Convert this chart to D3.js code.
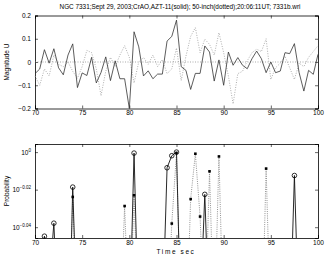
<!DOCTYPE html>
<html>
<head>
<meta charset="utf-8">
<script src="https://cdn.jsdelivr.net/npm/d3@7"></script>
<style>
  body { margin: 0; background: #fff; }
  text { font-family: "Liberation Sans", Arial, sans-serif; fill: #000; }
</style>
</head>
<body>
<svg id="chart" width="327" height="256"></svg>
<script>
// sample times, 0.5 s apart
const times = d3.range(61).map(i => 70 + i * 0.5);

const solidMag = [-0.05, -0.03, 0.053, -0.005, 0.057, -0.025, -0.055, 0.03, 0.078, -0.11,
  -0.047, -0.058, 0.02, -0.09, -0.045, 0.022, -0.08, 0.005, -0.072, -0.072,
  -0.2, 0.13, 0.065, -0.06, -0.038, -0.072, -0.052, -0.052, 0.09, 0.11,
  0.18, -0.02, -0.036, -0.118, -0.049, -0.049, 0.069, 0.043, -0.082, 0.009,
  -0.10, 0.043, -0.014, 0.019, -0.014, -0.029, 0.014, 0.047, 0.014, -0.046,
  0.0, -0.046, -0.039, 0.04, 0.036, 0.079, -0.046, -0.125, -0.036, -0.053, 0.033];

const dottedMag = [-0.06, -0.10, -0.03, -0.06, 0.03, -0.01, -0.02, 0.0, -0.04, -0.07,
  -0.02, 0.05, 0.04, -0.03, -0.145, -0.04, 0.02, -0.02, 0.03, 0.07,
  0.02, -0.09, 0.0, 0.02, -0.01, 0.03, -0.02, 0.01, -0.05, -0.03,
  0.06, -0.08, 0.025, 0.11, 0.148, 0.04, 0.098, 0.076, 0.03, 0.126,
  0.04, -0.06, -0.18, -0.05, -0.04, 0.005, 0.04, 0.055, 0.045, 0.10,
  -0.075, -0.025, -0.005, 0.025, -0.025, -0.075, -0.005, -0.02, 0.02, 0.045, 0.07];

const solidProb = [0.80, 0.82, 0.902, 0.85, 0.9165, 0.80, 0.78, 0.75, 0.958, 0.80,
  0.78, 0.76, 0.80, 0.82, 0.79, 0.80, 0.77, 0.80, 0.81, 0.78,
  0.80, 0.9988, 0.80, 0.78, 0.80, 0.79, 0.80, 0.81, 0.981, 0.9956,
  1.0, 0.80, 0.78, 0.79, 0.80, 0.82, 0.9495, 0.80, 0.78, 0.80,
  0.79, 0.80, 0.81, 0.80, 0.78, 0.79, 0.80, 0.80, 0.78, 0.80,
  0.79, 0.80, 0.81, 0.78, 0.80, 0.9717, 0.80, 0.79, 0.80, 0.78, 0.80];

const dottedProb = [0.78, 0.80, 0.79, 0.80, 0.78, 0.80, 0.81, 0.79, 0.9465, 0.80,
  0.78, 0.80, 0.79, 0.80, 0.81, 0.78, 0.80, 0.79, 0.80, 0.936,
  0.80, 0.9484, 0.80, 0.79, 0.78, 0.80, 0.81, 0.79, 0.80, 0.9161,
  0.999, 0.80, 0.79, 0.944, 0.998, 0.924, 0.80, 0.9767, 0.80, 0.9947,
  0.80, 0.79, 0.78, 0.80, 0.81, 0.80, 0.79, 0.80, 0.78, 0.980,
  0.80, 0.79, 0.80, 0.81, 0.78, 0.80, 0.79, 0.80, 0.78, 0.80, 0.79];

const xTicks = [70, 75, 80, 85, 90, 95, 100];
const magTicks = [-0.2, -0.1, 0, 0.1, 0.2];
const probTickExp = [0, -0.02, -0.04];

const titleText = 'NGC 7331;Sept 29, 2003;CrAO,AZT-11(solid); 50-inch(dotted);20:06:11UT; 7331b.wri';

const svg = d3.select('#chart');
const left = 35, right = 318;

const x = d3.scaleLinear().domain([70, 100]).range([left, right]);
const yMag = d3.scaleLinear().domain([-0.2, 0.2]).range([108.5, 15.5]);
const yProb = d3.scaleLog().domain([0.9, 1.01]).range([238, 144]);

function frame(y, top, bottom, yticks, yfmt) {
  const g = svg.append('g');
  g.append('g').attr('transform', `translate(0,${bottom})`)
    .call(d3.axisBottom(x).tickValues(xTicks).tickSize(-3).tickPadding(2).tickFormat(d3.format('d')));
  g.append('g').attr('transform', `translate(0,${top})`)
    .call(d3.axisTop(x).tickValues(xTicks).tickSize(-3).tickFormat(''));
  const ya = g.append('g').attr('transform', `translate(${left},0)`)
    .call(d3.axisLeft(y).tickValues(yticks).tickSize(-3).tickPadding(4).tickFormat(yfmt));
  g.append('g').attr('transform', `translate(${right},0)`)
    .call(d3.axisRight(y).tickValues(yticks).tickSize(-3).tickFormat(''));
  g.selectAll('.domain').attr('stroke', '#000').attr('stroke-width', 0.8);
  g.selectAll('.tick line').attr('stroke', '#000').attr('stroke-width', 0.6);
  g.selectAll('.tick text').attr('font-size', '6.5px').attr('font-family', '"Liberation Sans", Arial, sans-serif');
  return ya;
}

// ---- top panel: magnitudes
svg.append('text')
  .attr('x', 180).attr('y', 9)
  .attr('font-size', '6.4px')
  .style('text-anchor', 'middle')
  .text(titleText);

frame(yMag, 15.5, 108.5, magTicks, d => d === 0 ? '0' : d3.format('.1f')(d).replace('-', '\u2212'));

svg.append('line')
  .attr('x1', left).attr('x2', right)
  .attr('y1', yMag(0)).attr('y2', yMag(0))
  .attr('stroke', '#888').attr('stroke-width', 0.7)
  .attr('stroke-dasharray', '1,1.5');

const magLine = d3.line().x((d, i) => x(times[i])).y(d => yMag(d));

svg.append('path')
  .datum(dottedMag)
  .attr('fill', 'none')
  .attr('stroke', '#999')
  .attr('stroke-width', 0.8)
  .attr('stroke-dasharray', '1,1.5')
  .attr('d', magLine);

svg.append('path')
  .datum(solidMag)
  .attr('fill', 'none')
  .attr('stroke', '#333')
  .attr('stroke-width', 0.8)
  .attr('d', magLine);

svg.append('text')
  .attr('transform', 'translate(9,62) rotate(-90)')
  .attr('font-size', '6.5px')
  .style('text-anchor', 'middle')
  .text('Magnitude   U');

// ---- bottom panel: probabilities
const probAxis = frame(yProb, 144, 238, probTickExp.map(e => Math.pow(10, e)), () => '');
probAxis.selectAll('.tick text').each(function(d, i) {
  const t = d3.select(this);
  t.append('tspan').text('10');
  t.append('tspan').attr('dy', '-3').attr('font-size', '4.5px').text(probTickExp[i] === 0 ? '0' : '\u2212' + (-probTickExp[i]).toFixed(2));
});

svg.append('clipPath').attr('id', 'clip')
  .append('rect').attr('x', left).attr('y', 144).attr('width', right - left).attr('height', 94);

const probLine = d3.line().x((d, i) => x(times[i])).y(d => yProb(d));
const plot = svg.append('g').attr('clip-path', 'url(#clip)');

plot.append('path')
  .datum(dottedProb)
  .attr('fill', 'none')
  .attr('stroke', '#777')
  .attr('stroke-width', 0.8)
  .attr('stroke-dasharray', '1,1.2')
  .attr('d', probLine);

plot.append('path')
  .datum(solidProb)
  .attr('fill', 'none')
  .attr('stroke', '#111')
  .attr('stroke-width', 0.9)
  .attr('d', probLine);

const inRange = arr => arr.map((v, i) => ({t: times[i], v})).filter(d => d.v >= 0.9 && d.v <= 1.01);

svg.selectAll('.dot')
  .data(inRange(dottedProb))
  .enter().append('rect')
  .attr('x', d => x(d.t) - 1.3).attr('y', d => yProb(d.v) - 1.3)
  .attr('width', 2.6).attr('height', 2.6)
  .attr('fill', '#000');

svg.selectAll('.circ')
  .data(inRange(solidProb))
  .enter().append('circle')
  .attr('cx', d => x(d.t)).attr('cy', d => yProb(d.v))
  .attr('r', 2.3)
  .attr('fill', 'none')
  .attr('stroke', '#000')
  .attr('stroke-width', 0.8);

svg.append('text')
  .attr('transform', 'translate(9,191) rotate(-90)')
  .attr('font-size', '6.5px')
  .style('text-anchor', 'middle')
  .text('Probability');

svg.append('text')
  .attr('x', 176).attr('y', 253.5)
  .attr('font-size', '6.5px')
  .attr('letter-spacing', '1.6px')
  .style('text-anchor', 'middle')
  .text('Time sec');
</script>
</body>
</html>
